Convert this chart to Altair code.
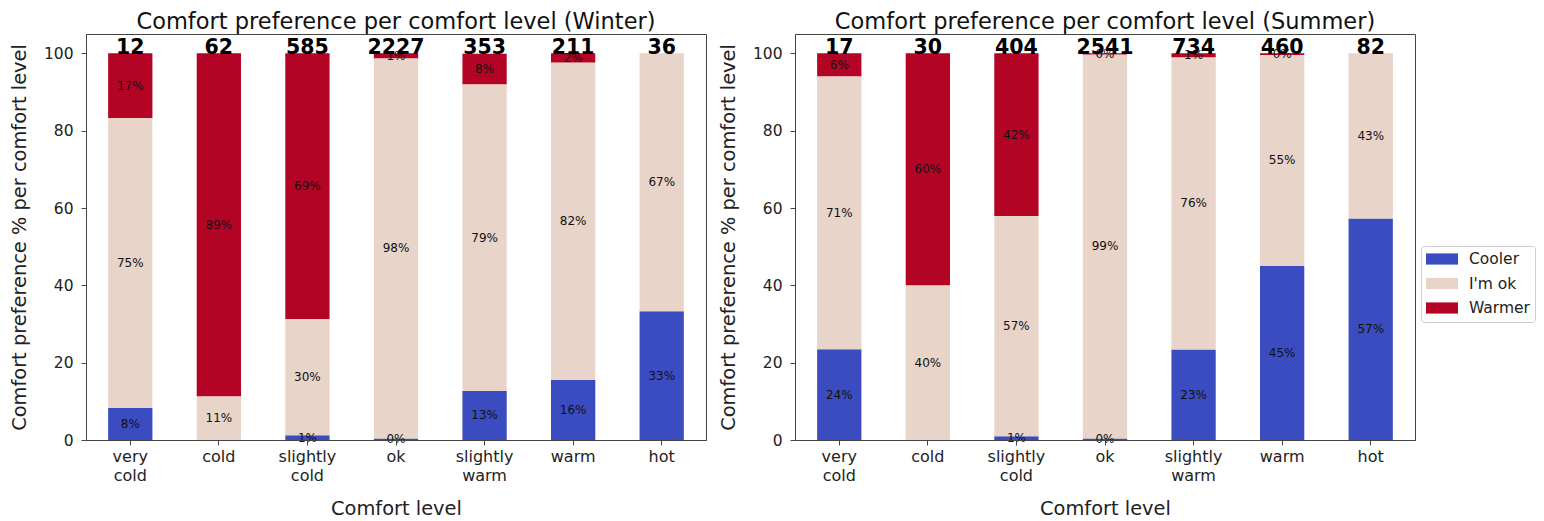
import altair as alt
import pandas as pd

levels = ["very cold", "cold", "slightly cold", "ok", "slightly warm", "warm", "hot"]
prefs = ["Cooler", "I'm ok", "Warmer"]
pref_colors = ["#3b4cc0", "#e8d4c8", "#b40426"]

winter_counts = [12, 62, 585, 2227, 353, 211, 36]
winter_cooler = [8.3, 0, 1.2, 0.4, 12.7, 15.6, 33.3]
winter_ok = [75.0, 11.3, 30.1, 98.3, 79.3, 82.0, 66.7]
winter_warmer = [16.7, 88.7, 68.7, 1.3, 7.9, 2.4, 0]

summer_counts = [17, 30, 404, 2541, 734, 460, 82]
summer_cooler = [23.5, 0, 1.0, 0.4, 23.4, 45.0, 57.3]
summer_ok = [70.6, 40.0, 56.9, 99.3, 75.6, 54.6, 42.7]
summer_warmer = [5.9, 60.0, 42.1, 0.3, 1.0, 0.4, 0]

FONT = "DejaVu Sans"


def make_df(cooler, ok, warmer):
    rows = []
    for i, lv in enumerate(levels):
        for j, vals in enumerate([cooler, ok, warmer]):
            rows.append({"level": lv, "pref": prefs[j], "order": j, "pct": vals[i]})
    return pd.DataFrame(rows)


def make_counts(counts):
    return pd.DataFrame({"level": levels, "count": counts})


x_axis = alt.Axis(
    title="Comfort level", labelAngle=0, labelExpr="split(datum.label, ' ')",
    labelFontSize=16, labelLineHeight=19, titleFontSize=19.4, labelPadding=3,
    tickSize=5, titlePadding=16, domain=True, domainColor="#444", zindex=1,
)
y_axis = alt.Axis(
    title="Comfort preference % per comfort level", values=[0, 20, 40, 60, 80, 100],
    labelFontSize=15.5, titleFontSize=19.4, labelPadding=8, tickSize=5,
    titlePadding=14, domain=True, domainColor="#444", zindex=1, grid=False,
)
x_scale = alt.Scale(domain=levels, paddingInner=0.5, paddingOuter=0.25)
y_scale = alt.Scale(domain=[0, 105], nice=False, zero=True)

legend = alt.Legend(
    title=None, orient="none", legendX=1335, legendY=212,
    symbolType="M-1,-0.7H3V0.7H-1Z", symbolSize=256, symbolStrokeWidth=0,
    labelFont=FONT, labelFontSize=15.5, labelOffset=27, rowPadding=7.5,
    padding=5, strokeColor="#cccccc", cornerRadius=3, fillColor="white",
    labelColor="#222",
)


def panel(df, cdf, season):
    base = alt.Chart(df).transform_stack(
        stack="pct", groupby=["level"], as_=["y0", "y1"], sort=[alt.SortField("order")]
    )
    bars = base.mark_bar().encode(
        x=alt.X("level:N", sort=levels, scale=x_scale, axis=x_axis),
        y=alt.Y("y0:Q", scale=y_scale, axis=y_axis),
        y2="y1:Q",
        color=alt.Color("pref:N", scale=alt.Scale(domain=prefs, range=pref_colors), legend=legend),
    )
    labels = base.transform_filter("datum.pct > 0").transform_calculate(
        mid="(datum.y0 + datum.y1) / 2", lab="format(datum.pct, '.0f') + '%'"
    ).mark_text(font=FONT, fontSize=12, color="#111").encode(
        x=alt.X("level:N", sort=levels, scale=x_scale, axis=x_axis),
        y=alt.Y("mid:Q", scale=y_scale, axis=y_axis),
        text="lab:N",
    )
    counts = alt.Chart(cdf).mark_text(
        font=FONT, fontSize=20.5, fontWeight="bold", baseline="alphabetic", dy=1, color="black"
    ).encode(
        x=alt.X("level:N", sort=levels, scale=x_scale, axis=x_axis),
        y=alt.datum(100, scale=y_scale, axis=y_axis),
        text="count:Q",
    )
    return alt.layer(bars, labels, counts).properties(
        width=620, height=406,
        title=alt.TitleParams(f"Comfort preference per comfort level ({season})",
                              fontSize=22.5, font=FONT, fontWeight="normal", offset=1, color="#111"),
    )


left = panel(make_df(winter_cooler, winter_ok, winter_warmer), make_counts(winter_counts), "Winter")
right = panel(make_df(summer_cooler, summer_ok, summer_warmer), make_counts(summer_counts), "Summer")

chart = alt.hconcat(left, right, spacing=10).properties(
    padding={"left": 0, "top": 2, "right": 0, "bottom": 0}
).configure(font=FONT).configure_view(
    stroke="#444", strokeWidth=1
).configure_axis(
    labelFont=FONT, titleFont=FONT, labelColor="#222", titleColor="#222",
    titleFontWeight="normal", tickColor="#444",
)

chart.save("out.html", embed_options={"renderer": "svg", "actions": False})
